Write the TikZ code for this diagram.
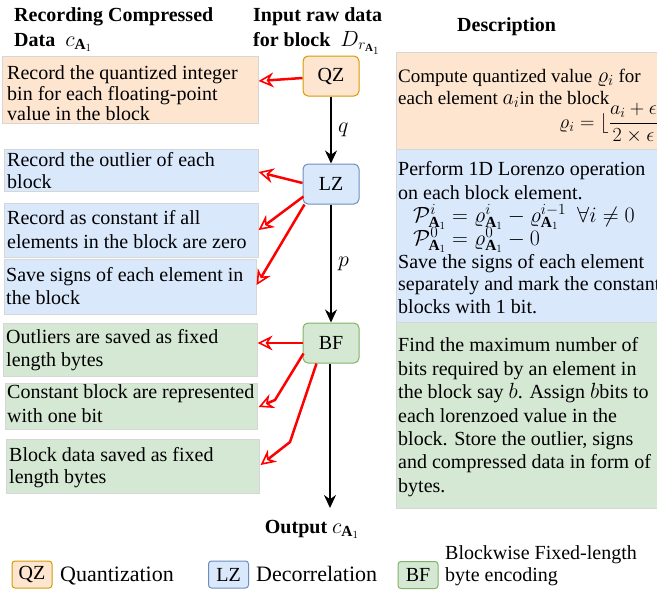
\RequirePackage{fix-cm}
\documentclass[tikz,border=0pt]{standalone}
\usepackage{fontspec}
\setmainfont{Liberation Serif}
\usetikzlibrary{arrows.meta,calc}
\definecolor{orfill}{HTML}{FDE5D0}
\definecolor{ordraw}{HTML}{D79B00}
\definecolor{blfill}{HTML}{DAE8FC}
\definecolor{bldraw}{HTML}{6C8EBF}
\definecolor{grfill}{HTML}{D5E8D4}
\definecolor{grdraw}{HTML}{82B366}
\definecolor{boxedge}{HTML}{D6D6D6}
\definecolor{redarr}{HTML}{FF0000}
\newcommand\mth[1]{{\fontsize{22}{23}\selectfont$#1$}}
\begin{document}
\begin{tikzpicture}[x=1pt,y=-1pt,
  txt/.style={font=\fontsize{20}{23}\selectfont, anchor=base west, inner sep=0pt},
  txts/.style={font=\fontsize{19}{22}\selectfont, anchor=base west, inner sep=0pt},
  hdr/.style={font=\fontsize{20}{23}\selectfont\bfseries, anchor=base west, inner sep=0pt},
  proc/.style={draw, rounded corners=5pt, line width=1pt, minimum width=56pt, minimum height=40pt, inner sep=0pt, font=\fontsize{20}{23}\selectfont},
  leg/.style={draw, rounded corners=3pt, line width=1pt, minimum width=40pt, minimum height=27pt, inner sep=0pt, font=\fontsize{20}{23}\selectfont},
  tbox/.style={draw=boxedge, line width=0.6pt, anchor=north west, inner sep=0pt},
  redarrow/.style={draw=redarr, line width=2.5pt, -{Stealth[length=15pt,width=15pt,inset=5pt,open,line width=1.6pt]}},
  blkarrow/.style={draw=black, line width=1.5pt, -{Stealth[length=13pt,width=12pt]}}]
\clip (0,0) rectangle (657,592);
\useasboundingbox (0,0) rectangle (657,592);

% headers
\node[hdr] (h1a) at (14,21) {Recording Compressed};
\node[hdr] (h1b) at (14,46) {Data \ \mth{c_{\mathbf{A}_1}}};
\node[hdr] (h2a) at (253,21) {Input raw data};
\node[hdr] (h2b) at (253,46) {for block \ \mth{D_{r_{\mathbf{A}_1}}}};
\node[hdr] (h3) at (457,31) {Description};

% process boxes
\node[proc, fill=orfill, draw=ordraw] (qz) at (331,76) {QZ};
\node[proc, fill=blfill, draw=bldraw] (lz) at (331,184) {LZ};
\node[proc, fill=grfill, draw=grdraw] (bf) at (331,343) {BF};
\coordinate (out) at (330,508);

% left boxes
\node[tbox, fill=orfill, minimum width=256pt, minimum height=67pt] (o1) at (2,56) {};
\node[tbox, fill=blfill, minimum width=254pt, minimum height=42pt] (b1) at (4,149) {};
\node[tbox, fill=blfill, minimum width=254pt, minimum height=54pt] (b2) at (4,203) {};
\node[tbox, fill=blfill, minimum width=252pt, minimum height=55pt] (b3) at (4,259) {};
\node[tbox, fill=grfill, minimum width=254pt, minimum height=53pt] (g1) at (3,323) {};
\node[tbox, fill=grfill, minimum width=252pt, minimum height=46pt] (g2) at (5,383) {};
\node[tbox, fill=grfill, minimum width=253pt, minimum height=54pt] (g3) at (6,439) {};

% right boxes
\node[tbox, fill=orfill, minimum width=300pt, minimum height=97pt] (ro) at (396,52) {};
\node[tbox, fill=blfill, minimum width=300pt, minimum height=173pt] (rb) at (396,149) {};
\node[tbox, fill=grfill, minimum width=300pt, minimum height=186pt] (rg) at (396,322) {};

% left texts
\node[txt] (o1t1) at (7,79) {Record the quantized integer};
\node[txt] (o1t2) at (7,100) {bin for each floating-point};
\node[txt] (o1t3) at (7,120) {value in the block};
\node[txt] (b1t1) at (7,166) {Record the outlier of each};
\node[txt] (b1t2) at (7,188) {block};
\node[txt] (b2t1) at (7,224) {Record as constant if all};
\node[txt] (b2t2) at (7,248) {elements in the block are zero};
\node[txt] (b3t1) at (6,281) {Save signs of each element in};
\node[txt] (b3t2) at (6,304) {the block};
\node[txt] (g1t1) at (6,343) {Outliers are saved as fixed};
\node[txt] (g1t2) at (6,366) {length bytes};
\node[txt] (g2t1) at (7,398) {Constant block are represented};
\node[txt] (g2t2) at (7,422) {with one bit};
\node[txt] (g3t1) at (9,461) {Block data saved as fixed};
\node[txt] (g3t2) at (9,483) {length bytes};

% right texts
\node[txts] (rot1) at (398,82) {Compute quantized value \mth{\varrho_i} for};
\node[txts] (rot2) at (398,104) {each element \mth{a_i}in the block};
\node[txt] (rot3) at (559,128) {$\displaystyle\varrho_i=\lfloor\frac{a_i+\epsilon}{2\times\epsilon}\rfloor$};
\node[txt] (rbt1) at (398,175) {Perform 1D Lorenzo operation};
\node[txt] (rbt2) at (398,199) {on each block element.};
\node[txt] (rbt3) at (413,222) {\mth{\mathcal{P}^i_{\mathbf{A}_1}=\varrho^i_{\mathbf{A}_1}-\varrho^{i-1}_{\mathbf{A}_1}\ \ \forall i\neq 0}};
\node[txt] (rbt4) at (413,245) {\mth{\mathcal{P}^0_{\mathbf{A}_1}=\varrho^0_{\mathbf{A}_1}-0}};
\node[txt] (rbt5) at (398,268) {Save the signs of each element};
\node[txt] (rbt6) at (398,290) {separately and mark the constant};
\node[txt] (rbt7) at (398,313) {blocks with 1 bit.};
\node[txt] (rgt1) at (398,351) {Find the maximum number of};
\node[txt] (rgt2) at (398,375) {bits required by an element in};
\node[txt] (rgt3) at (398,398) {the block say \mth{b}. Assign \mth{b}bits to};
\node[txt] (rgt4) at (398,422) {each lorenzoed value in the};
\node[txt] (rgt5) at (398,445) {block. Store the outlier, signs};
\node[txt] (rgt6) at (398,468) {and compressed data in form of};
\node[txt] (rgt7) at (398,492) {bytes.};

% black flow arrows
\draw[blkarrow] (qz.south) -- node[right=3pt, font=\fontsize{22}{23}\selectfont] (ql) {$q$} (lz.north);
\draw[blkarrow] (lz.south) -- node[right=3pt, font=\fontsize{22}{23}\selectfont] (pl) {$p$} (bf.north);
\draw[blkarrow] (bf.south -| out) -- (out);
\node[hdr, anchor=base] (outl) at (312,533) {Output \mth{c_{\mathbf{A}_1}}};

% red arrows
\draw[redarrow] ($(qz.west)+(0,2)$) -- ($(o1.north east)+(0,25)$);
\draw[redarrow] ($(lz.west)+(0,-1)$) -- ($(b1.north east)+(0,23)$);
\draw[redarrow] ($(lz.south west)+(1,-8)$) -- ($(b2.north east)+(0,27)$);
\draw[redarrow] ($(lz.south west)+(2,0)$) -- ($(b3.north east)+(0,26)$);
\draw[redarrow] (bf.west) -- ($(g1.north east)+(0,20)$);
\draw[redarrow] ($(bf.south west)+(1,-10)$) -- (275,400) -- ($(g2.north east)+(1,24)$);
\draw[redarrow] ($(bf.south west)+(14,0)$) -- (290,442) -- ($(g3.north east)+(1,26)$);

% legend
\node[leg, fill=orfill, draw=ordraw] (lqz) at (32,574.5) {QZ};
\node[txt, font=\fontsize{22}{25}\selectfont] (lqzt) at (60,581) {Quantization};
\node[leg, fill=blfill, draw=bldraw] (llz) at (228.5,574.5) {LZ};
\node[txt, font=\fontsize{22}{25}\selectfont] (llzt) at (256,581) {Decorrelation};
\node[leg, fill=grfill, draw=grdraw] (lbf) at (418,575) {BF};
\node[txt] (lbft1) at (445,559) {Blockwise Fixed-length};
\node[txt] (lbft2) at (445,581) {byte encoding};
\end{tikzpicture}
\end{document}
